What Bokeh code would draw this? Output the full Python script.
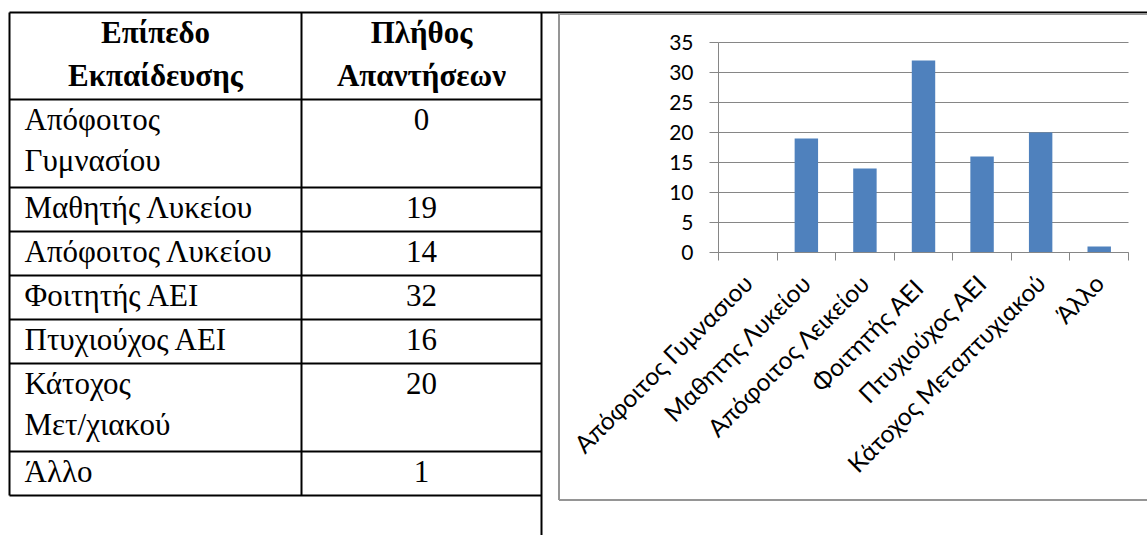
import math
from bokeh.plotting import figure
from bokeh.models import Range1d, FixedTicker
from bokeh.core.properties import value
from bokeh.embed import file_html
from bokeh.resources import INLINE

# ---------------- data ----------------
table_header = [["Επίπεδο", "Εκπαίδευσης"], ["Πλήθος", "Απαντήσεων"]]
table_levels = [["Απόφοιτος", "Γυμνασίου"], ["Μαθητής Λυκείου"], ["Απόφοιτος Λυκείου"],
                ["Φοιτητής  ΑΕΙ"], ["Πτυχιούχος  ΑΕΙ"], ["Κάτοχος", "Μετ/χιακού"], ["Άλλο"]]
counts = [0, 19, 14, 32, 16, 20, 1]
chart_categories = ["Απόφοιτος Γυμνασιου", "Μαθητης Λυκείου", "Απόφοιτος Λεικείου",
                    "Φοιτητής  ΑΕΙ", "Πτυχιούχος ΑΕΙ", "Κάτοχος Μεταπτυχιακού", "Άλλο"]
y_ticks = [0, 5, 10, 15, 20, 25, 30, 35]

# ---------------- layout constants (page pixels) ----------------
W, H = 1147, 535
OX, OY = 0, 0                      # page offset of the canvas
SERIF = value("Liberation Serif")
GREY = "#868686"

# chart plot area in page pixels
PA_L, PA_R, PA_T, PA_B = 718, 1128, 42, 252
n = len(chart_categories)
ymax = y_ticks[-1]
ppx = (PA_R - PA_L) / n
ppy = (PA_B - PA_T) / ymax
xr = Range1d(0 - (PA_L - OX) / ppx, n + (OX + W - PA_R) / ppx)
yr = Range1d(0 - (OY + H - PA_B) / ppy, ymax + (PA_T - OY) / ppy)

p = figure(width=W, height=H, x_range=xr, y_range=yr, toolbar_location=None,
           output_backend="svg", min_border=0)
p.outline_line_color = None
p.grid.visible = False
p.extra_x_ranges = {"px": Range1d(OX, OX + W)}
p.extra_y_ranges = {"px": Range1d(OY + H, OY)}
PX = dict(x_range_name="px", y_range_name="px")

# ---------------- table ----------------
t_left, t_mid, t_right, t_top = 9, 301, 541, 12
header_h, line_h = 87, 44
row_tops = [t_top, t_top + header_h]
for lines in table_levels:
    row_tops.append(row_tops[-1] + line_h * len(lines))
t_bottom = row_tops[-1]

hx0 = [t_left] * len(row_tops)
hx1 = [t_right] * len(row_tops)
hx1[0] = OX + W
p.segment(x0=hx0, y0=row_tops, x1=hx1, y1=row_tops, line_color="black", line_width=2, **PX)
p.segment(x0=[t_left, t_mid, t_right], y0=[t_top] * 3, x1=[t_left, t_mid, t_right],
          y1=[t_bottom, t_bottom, OY + H], line_color="black", line_width=2, **PX)

c1 = (t_left + t_mid) / 2
c2 = (t_mid + t_right) / 2
hx, hy, ht = [], [], []
for cx, lines in zip([c1, c2], table_header):
    for k, s in enumerate(lines):
        hx.append(cx); hy.append(t_top + 20 + 43 * k); ht.append(s)
p.text(x=hx, y=hy, text=ht, text_font=SERIF, text_font_size="31px", text_font_style="bold",
       text_align="center", text_baseline="alphabetic", text_color="black", **PX)

bx, by, bt = [], [], []
nx, ny, nt = [], [], []
for top, lines, c in zip(row_tops[1:-1], table_levels, counts):
    for k, s in enumerate(lines):
        bx.append(t_left + 15); by.append(top + 20 + 41 * k); bt.append(s)
    nx.append(c2); ny.append(top + 20); nt.append(str(c))
p.text(x=bx, y=by, text=bt, text_font=SERIF, text_font_size="31px",
       text_align="left", text_baseline="alphabetic", text_color="black", **PX)
p.text(x=nx, y=ny, text=nt, text_font=SERIF, text_font_size="31px",
       text_align="center", text_baseline="alphabetic", text_color="black", **PX)

# chart area border (Excel chart frame)
CA_L, CA_T, CA_B = 558.5, 13.5, 499.5
p.segment(x0=[CA_L, CA_L, CA_L], y0=[CA_T, CA_T, CA_B], x1=[CA_L, OX + W, OX + W],
          y1=[CA_B, CA_T, CA_B], line_color="#959595", line_width=2, **PX)

# ---------------- chart ----------------
centers = [i + 0.5 for i in range(n)]
# horizontal gridlines at the y ticks
p.segment(x0=[0] * len(y_ticks), y0=y_ticks, x1=[n] * len(y_ticks), y1=y_ticks,
          line_color=GREY, line_width=1)
p.vbar(x=centers, top=counts, width=0.4, fill_color="#4F81BD", line_color=None)

ya = p.yaxis[0]
ya.fixed_location = 0
ya.bounds = (0, ymax)
ya.ticker = FixedTicker(ticks=y_ticks)
ya.axis_line_color = GREY
ya.major_tick_line_color = GREY
ya.major_tick_out = 9
ya.major_tick_in = 0
ya.minor_tick_out = 0
ya.minor_tick_in = 0
ya.major_label_text_font = "Lato"
ya.major_label_text_font_size = "21px"
ya.major_label_text_color = "black"
ya.major_label_standoff = 16

xa = p.xaxis[0]
xa.fixed_location = 0
xa.bounds = (0, n)
xa.ticker = FixedTicker(ticks=centers, minor_ticks=list(range(n + 1)))
xa.major_label_overrides = {c: lab for c, lab in zip(centers, chart_categories)}
xa.major_label_orientation = math.pi / 4
xa.axis_line_color = GREY
xa.major_tick_out = 0
xa.major_tick_in = 0
xa.minor_tick_out = 8
xa.minor_tick_in = 0
xa.minor_tick_line_color = GREY
xa.major_label_text_font = "Lato"
xa.major_label_text_font_size = "24.5px"
xa.major_label_text_color = "black"
xa.major_label_standoff = 18

open("out.html", "w").write(file_html(p, INLINE))
